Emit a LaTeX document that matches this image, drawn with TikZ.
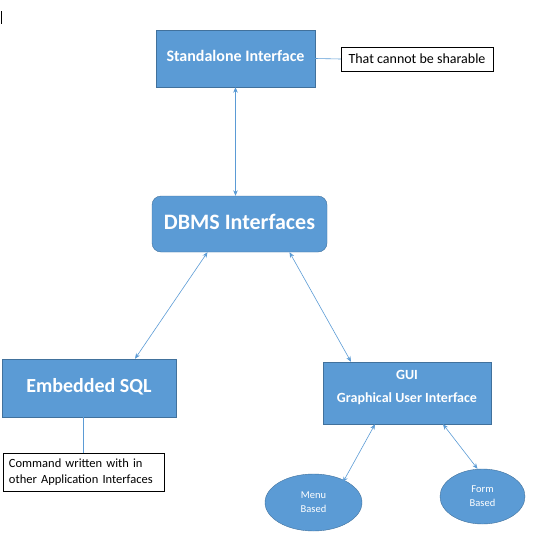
\documentclass[tikz,border=0pt]{standalone}
\usepackage{fontspec}
\setmainfont{Carlito}
\usepackage{xcolor}
\usetikzlibrary{shapes.geometric, arrows.meta, positioning}
\definecolor{boxblue}{HTML}{5B9BD5}
\definecolor{edgeblue}{HTML}{41719C}

\begin{document}
\begin{tikzpicture}[
    x=1pt, y=-1pt,
    every node/.style={align=center, inner sep=0pt},
    mainbox/.style={rectangle, draw=edgeblue, fill=boxblue, text=white, font=\bfseries},
    hubbox/.style={mainbox, rounded corners=9pt},
    notebox/.style={rectangle, draw=black, fill=white, text=black},
    leaf/.style={ellipse, draw=edgeblue, fill=boxblue, text=white, font=\fontsize{10.5}{14}\selectfont},
    link/.style={draw=boxblue, line width=0.6pt},
    arrow/.style={link, {Stealth[length=5.5pt,width=4.5pt]}-{Stealth[length=5.5pt,width=4.5pt]}}
]
\useasboundingbox (0,0) rectangle (540,546);

% cursor mark
\draw[black, line width=1pt] (1.5,11) -- (1.5,24);

% Top
\node[mainbox, minimum width=159pt, minimum height=57pt, font=\bfseries\fontsize{16}{18}\selectfont] (standalone) at (235.5,58.5) {\raisebox{6pt}{Standalone Interface}};
\node[notebox, minimum width=152pt, minimum height=24pt, font=\fontsize{14}{16}\selectfont] (sharable) at (417,59) {That cannot be sharable};

% Hub
\node[hubbox, minimum width=175pt, minimum height=56pt, font=\bfseries\fontsize{22}{26}\selectfont] (dbms) at (239.5,224) {\raisebox{5pt}{DBMS Interfaces}};

% Lower level
\node[mainbox, minimum width=174pt, minimum height=58pt, font=\bfseries\fontsize{20}{24}\selectfont] (embedded) at (89,388) {\raisebox{6pt}{Embedded SQL}};
\node[notebox, minimum width=161pt, minimum height=38pt, text width=149pt, align=left, font=\fontsize{12.5}{16}\selectfont] (command) at (83.5,472) {Command written with in\\other Application Interfaces};
\node[mainbox, minimum width=168pt, minimum height=62pt, font=\bfseries\fontsize{14}{23}\selectfont] (gui) at (407,393) {\parbox[c][46pt][t]{160pt}{\centering GUI\\Graphical User Interface}};

% Leaves
\node[leaf, minimum width=97pt, minimum height=57pt] (menu) at (313.5,502.5) {\raisebox{3pt}{\parbox{40pt}{\centering Menu\\Based}}};
\node[leaf, minimum width=85pt, minimum height=55pt] (form) at (482.5,496.5) {\raisebox{2pt}{\parbox{40pt}{\centering Form\\Based}}};

% Connections
\coordinate (sqlfoot) at ([xshift=-6pt]embedded.south);
\draw[link] (standalone.east) -- (sharable.west);
\draw[arrow] (standalone.south) -- (dbms.north -| standalone.south);
\draw[arrow] ([xshift=-32pt]dbms.south) -- ([xshift=46pt]embedded.north);
\draw[arrow] ([xshift=50pt]dbms.south) -- ([xshift=-56pt]gui.north);
\draw[link] (sqlfoot) -- (sqlfoot |- command.north);
\draw[arrow] ([xshift=-32pt]gui.south) -- ([xshift=-5pt]menu.north east);
\draw[arrow] ([xshift=36pt]gui.south) -- ([xshift=-5pt]form.north);

\end{tikzpicture}
\end{document}
